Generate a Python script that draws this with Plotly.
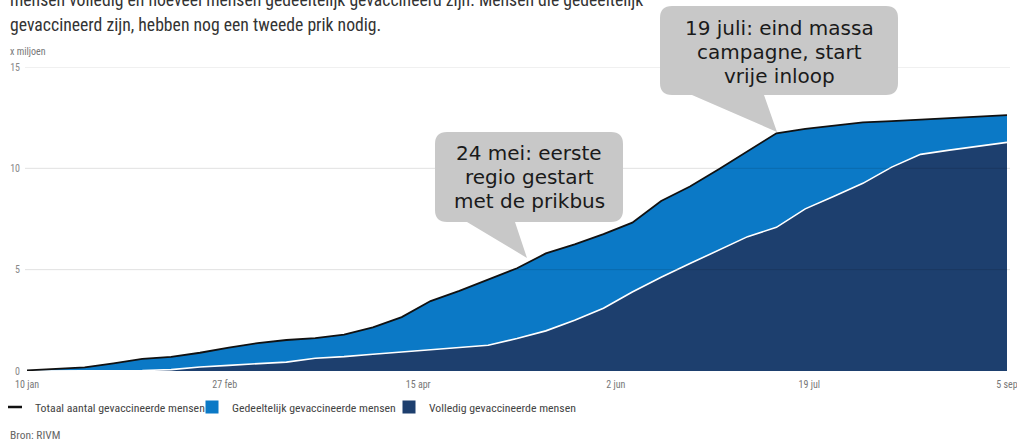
import pandas as pd
import plotly.graph_objects as go

# ---- data (millions of people, weekly from 10 jan 2021) ----
dates = pd.date_range("2021-01-10", periods=35, freq="7D")
totaal = [0.03, 0.10, 0.18, 0.38, 0.60, 0.70, 0.90, 1.15, 1.38, 1.53, 1.62, 1.80,
          2.15, 2.66, 3.45, 3.95, 4.50, 5.07, 5.80, 6.25, 6.75, 7.32, 8.39, 9.10,
          9.95, 10.85, 11.73, 11.95, 12.12, 12.27, 12.33, 12.40, 12.48, 12.55, 12.63]
volledig = [0.0, 0.0, 0.0, 0.0, 0.02, 0.07, 0.20, 0.28, 0.36, 0.44, 0.63, 0.71,
            0.83, 0.94, 1.04, 1.15, 1.27, 1.60, 1.98, 2.50, 3.10, 3.90, 4.63, 5.30,
            5.95, 6.63, 7.09, 8.00, 8.62, 9.26, 10.06, 10.69, 10.90, 11.10, 11.28]
x_tickvals = ["2021-01-10", "2021-02-27", "2021-04-15", "2021-06-02", "2021-07-19", "2021-09-05"]
x_ticktext = ["10 jan", "27 feb", "15 apr", "2 jun", "19 jul", "5 sep"]
y_tickvals = [0, 5, 10, 15]
series_names = ["Totaal aantal gevaccineerde mensen", "Gedeeltelijk gevaccineerde mensen",
                "Volledig gevaccineerde mensen"]
callout1 = ["24 mei: eerste", "regio gestart", "met de prikbus"]
callout2 = ["19 juli: eind massa", "campagne, start", "vrije inloop"]
intro = ["mensen volledig en hoeveel mensen gedeeltelijk gevaccineerd zijn. Mensen die gedeeltelijk",
         "gevaccineerd zijn, hebben nog een tweede prik nodig."]

LIGHT = "#0b79c6"
NAVY = "#1d3f6e"
NARROW = "Roboto Condensed, Liberation Sans, sans-serif"
W, H = 1017, 441
ML, MR, MT, MB = 27, 10, 67, 70
PW, PH = W - ML - MR, H - MT - MB


def px(X):
    return (X - ML) / PW


def py(Y):
    return (H - MB - Y) / PH


fig = go.Figure()
fig.add_trace(go.Scatter(x=dates, y=volledig, mode="lines", fill="tozeroy", fillcolor=NAVY,
                         line=dict(width=0), showlegend=False, hoverinfo="skip"))
fig.add_trace(go.Scatter(x=dates, y=totaal, mode="lines", fill="tonexty", fillcolor=LIGHT,
                         line=dict(width=0), showlegend=False, hoverinfo="skip"))
fig.add_trace(go.Scatter(x=dates, y=volledig, mode="lines", line=dict(color="white", width=1.6),
                         showlegend=False))
fig.add_trace(go.Scatter(x=dates, y=totaal, mode="lines", line=dict(color="#111111", width=1.8),
                         showlegend=False))

# legend entries
fig.add_trace(go.Scatter(x=[None], y=[None], mode="markers", name=series_names[0],
                         marker=dict(symbol="line-ew", size=10, line=dict(width=2.4, color="#111111"))))
fig.add_trace(go.Scatter(x=[None], y=[None], mode="markers", name=series_names[1],
                         marker=dict(symbol="square", size=13, color=LIGHT)))
fig.add_trace(go.Scatter(x=[None], y=[None], mode="markers", name=series_names[2],
                         marker=dict(symbol="square", size=13, color=NAVY)))

shapes = []
# gridlines drawn over the areas (semi-transparent)
for v in y_tickvals[1:]:
    shapes.append(dict(type="line", xref="paper", yref="y", x0=px(25), x1=px(1010), y0=v, y1=v,
                       line=dict(color="rgba(0,0,0,0.12)", width=1), layer="above"))


def callout_path(x0, x1, y0, y1, r, b0, b1, tx, ty):
    def P(X, Y):
        return f"{px(X):.5f},{py(Y):.5f}"
    return (f"M {P(x0 + r, y0)} L {P(x1 - r, y0)} Q {P(x1, y0)} {P(x1, y0 + r)} "
            f"L {P(x1, y1 - r)} Q {P(x1, y1)} {P(x1 - r, y1)} L {P(b1, y1)} L {P(tx, ty)} "
            f"L {P(b0, y1)} L {P(x0 + r, y1)} Q {P(x0, y1)} {P(x0, y1 - r)} "
            f"L {P(x0, y0 + r)} Q {P(x0, y0)} {P(x0 + r, y0)} Z")


shapes.append(dict(type="path", xref="paper", yref="paper", layer="above",
                   path=callout_path(435, 623, 132, 222, 12, 467, 515, 527, 258),
                   fillcolor="#c8c8c8", line=dict(width=0)))
shapes.append(dict(type="path", xref="paper", yref="paper", layer="above",
                   path=callout_path(660, 898, 6, 95, 12, 692, 764, 777, 132),
                   fillcolor="#c8c8c8", line=dict(width=0)))

annotations = []
for i, t in enumerate(callout1):
    annotations.append(dict(text=t, xref="paper", yref="paper", x=px(529), y=py(153 + 24 * i),
                            xanchor="center", yanchor="middle", showarrow=False,
                            font=dict(family="DejaVu Sans", size=20, color="#1a1a1a")))
for i, t in enumerate(callout2):
    annotations.append(dict(text=t, xref="paper", yref="paper", x=px(779), y=py(28 + 24 * i),
                            xanchor="center", yanchor="middle", showarrow=False,
                            font=dict(family="DejaVu Sans", size=20, color="#1a1a1a")))
for i, t in enumerate(intro):
    annotations.append(dict(text=t, xref="paper", yref="paper", x=px(8), y=py(0 + 25 * i),
                            xanchor="left", yanchor="middle", showarrow=False,
                            font=dict(family=NARROW, size=17.7, color="#333333")))
annotations.append(dict(text="x miljoen", xref="paper", yref="paper", x=px(8), y=py(52),
                        xanchor="left", yanchor="middle", showarrow=False,
                        font=dict(family=NARROW, size=10, color="#777777")))
annotations.append(dict(text="Bron: RIVM", xref="paper", yref="paper", x=px(8), y=py(434.5),
                        xanchor="left", yanchor="middle", showarrow=False,
                        font=dict(family=NARROW, size=11.5, color="#666666")))

fig.update_layout(
    width=W, height=H,
    margin=dict(l=ML, r=MR, t=MT, b=MB, autoexpand=False),
    paper_bgcolor="white", plot_bgcolor="white",
    shapes=shapes, annotations=annotations,
    showlegend=True,
    legend=dict(orientation="h", x=px(-5), y=py(407), xanchor="left", yanchor="middle",
                traceorder="normal", entrywidth=152, entrywidthmode="pixels",
                font=dict(family=NARROW, size=11.8, color="#444444"), bgcolor="rgba(0,0,0,0)",
                itemclick=False, itemdoubleclick=False),
    xaxis=dict(type="date", range=[dates[0], dates[-1]], tickvals=x_tickvals, ticktext=x_ticktext,
               showgrid=False, zeroline=False, showline=False, ticks="", automargin=False,
               ticklabeloverflow="allow", ticklabelstandoff=6,
               tickfont=dict(family=NARROW, size=10, color="#777777"), fixedrange=True),
    yaxis=dict(range=[0, 15], tickvals=y_tickvals, showgrid=False, zeroline=False, showline=False,
               ticks="", ticklabelstandoff=6, automargin=False,
               tickfont=dict(family=NARROW, size=10, color="#888888"), fixedrange=True),
)

fig.write_html("out.html", config={"displayModeBar": False})
